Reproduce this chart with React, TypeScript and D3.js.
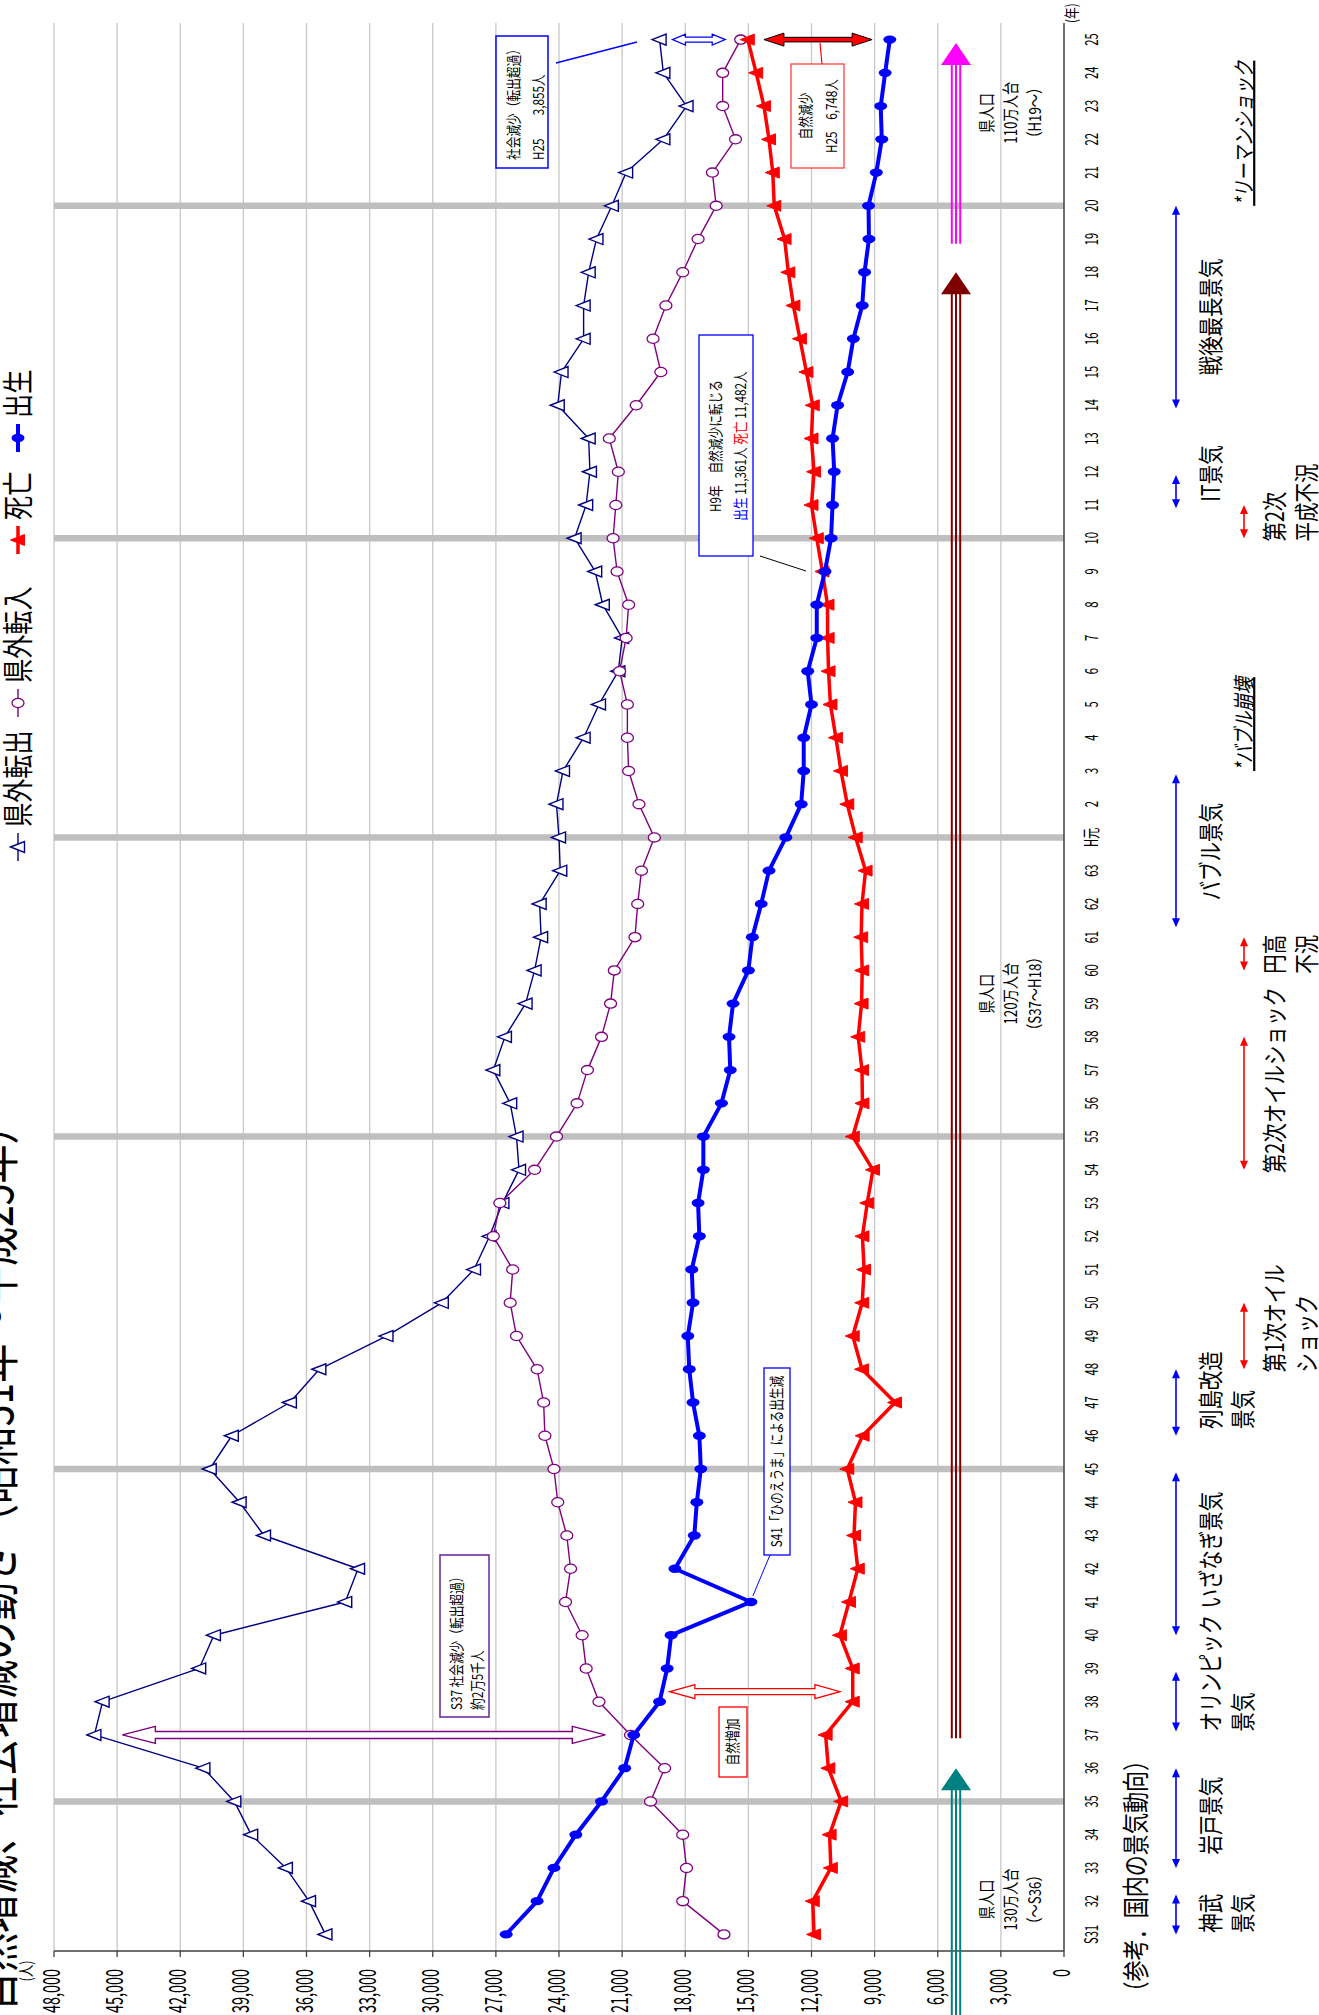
import * as d3 from 'd3';

// 昭和31年～平成25年
const years = [
  'S31', '32', '33', '34', '35', '36', '37', '38', '39', '40', '41', '42', '43', '44', '45', '46', '47',
  '48', '49', '50', '51', '52', '53', '54', '55', '56', '57', '58', '59', '60', '61', '62', '63',
  'H元', '2', '3', '4', '5', '6', '7', '8', '9', '10', '11', '12', '13', '14', '15', '16', '17', '18',
  '19', '20', '21', '22', '23', '24', '25',
];

// 県外転出
const outflow = [
  35100, 35880, 36980, 38630, 39430, 40900, 46080, 45690, 41100, 40400, 34160, 33550, 38020, 39180,
  40600, 39550, 36790, 35390, 32200, 29570, 28040, 27300, 26690, 25900, 26020, 26320, 27120, 26570,
  25590, 25160, 24850, 24920, 23940, 24000, 24120, 23810, 22830, 22100, 21180, 21000, 21920, 22280,
  23260, 22710, 22530, 22590, 24060, 23880, 22830, 22830, 22590, 22220, 21490, 20810, 19040, 17940,
  19040, 19220,
];

// 県外転入
const inflow = [
  16160, 18120, 17940, 18120, 19650, 18980, 20600, 22100, 22710, 22900, 23690, 23450, 23630, 24060,
  24240, 24670, 24730, 25040, 26020, 26320, 26200, 27120, 26810, 25160, 24120, 23140, 22650, 21980,
  21550, 21370, 20390, 20260, 20080, 19470, 20200, 20690, 20750, 20750, 21120, 20810, 20690, 21240,
  21430, 21300, 21180, 21610, 20330, 19160, 19530, 18920, 18120, 17390, 16530, 16710, 15610, 16220,
  16220, 15365,
];

// 死亡
const deaths = [
  11880, 11940, 11080, 11140, 10590, 11200, 11330, 10040, 10040, 10650, 10220, 9800, 9980, 9910,
  10300, 9570, 8030, 9600, 10040, 9590, 9500, 9580, 9350, 9080, 10040, 9580, 9600, 9780, 9620, 9590,
  9640, 9600, 9430, 9900, 10300, 10600, 10840, 11100, 11190, 11234, 11240, 11482, 11750, 12000, 11880,
  12000, 11940, 12240, 12550, 12860, 13100, 13280, 13770, 13840, 14020, 14260, 14630, 15028,
];

// 出生
const births = [
  26510, 25040, 24240, 23200, 21980, 20880, 20450, 19220, 18860, 18670, 14880, 18490, 17570, 17450,
  17260, 17330, 17630, 17810, 17880, 17630, 17690, 17330, 17390, 17140, 17140, 16280, 15860, 15920,
  15730, 15000, 14810, 14390, 14020, 13220, 12490, 12370, 12370, 12000, 12180, 11750, 11750, 11361,
  11070, 11000, 10920, 11000, 10760, 10280, 10010, 9590, 9480, 9270, 9290, 8920, 8660, 8710, 8500,
  8280,
];

const valueTicks = d3.range(0, 48001, 3000);
const decadeIdx = [4, 14, 24, 33, 42, 52]; // S35, S45, S55, H元, H10, H20

// 国内の景気動向 (year-index spans)
const booms = [
  { label: ['神武', '景気'], from: 0, to: 1.2, at: 0.05 },
  { label: ['岩戸景気'], from: 2, to: 5, at: 2.4 },
  { label: ['オリンピック', '景気'], from: 6.1, to: 7.9, at: 6.1 },
  { label: ['いざなぎ景気'], from: 9, to: 13.9, at: 9.8 },
  { label: ['列島改造', '景気'], from: 15, to: 17, at: 15.2 },
  { label: ['バブル景気'], from: 30.3, to: 34.9, at: 31.1 },
  { label: ['IT景気'], from: 42.9, to: 43.9, at: 43.1 },
  { label: ['戦後最長景気'], from: 45.9, to: 52, at: 46.9 },
];
const slumps = [
  { label: ['第1次オイル', 'ショック'], from: 17, to: 19, at: 16.9 },
  { label: ['第2次オイルショック'], from: 23, to: 27, at: 22.9 },
  { label: ['円高', '不況'], from: 29, to: 30, at: 28.9 },
  { label: ['第2次', '平成不況'], from: 42, to: 43, at: 41.9 },
];
const events = [
  { label: '*バブル崩壊', at: 35.0 },
  { label: '*リーマンショック', at: 52.0 },
];

// 県人口
const popSpans = [
  { color: '#008080', from: -3, to: 5, center: 1.05, label: ['県人口', '130万人台', '（～S36）'] },
  { color: '#800000', from: 5.9, to: 50, center: 28.3, label: ['県人口', '120万人台', '（S37～H18）'] },
  { color: '#ff00ff', from: 50.86, to: 56.9, center: 54.8, label: ['県人口', '110万人台', '（H19～）'] },
];

const SX = 0.78;
const NUMSX = 0.62;
const FONT = "'Noto Sans CJK JP', 'Noto Sans', sans-serif";

function T({ x, y, size, anchor = 'start', fill = '#000', sx = SX, italic = false, underline = false, children }: any) {
  return (
    <text
      transform={`translate(${x},${y}) scale(${sx},1)`}
      fontSize={size}
      textAnchor={anchor}
      fill={fill}
      fontFamily={FONT}
      fontStyle={italic ? 'italic' : undefined}
      textDecoration={underline ? 'underline' : undefined}
    >
      {children}
    </text>
  );
}

// vertical double-headed block arrow
function dblArrowV(cx: number, ya: number, yb: number, s: number, w: number, h: number) {
  const y1 = Math.min(ya, yb);
  const y2 = Math.max(ya, yb);
  return `M${cx},${y1} L${cx + w},${y1 + h} L${cx + s},${y1 + h} L${cx + s},${y2 - h} L${cx + w},${y2 - h} L${cx},${y2} L${cx - w},${y2 - h} L${cx - s},${y2 - h} L${cx - s},${y1 + h} L${cx - w},${y1 + h} Z`;
}

function Marker({ type, x, y, color }: any) {
  if (type === 'triOpen' || type === 'triFill') {
    const d = `M${x},${y - 7.5} L${x + 5.5},${y + 6.5} L${x - 5.5},${y + 6.5} Z`;
    return type === 'triOpen'
      ? <path d={d} fill="#fff" stroke={color} strokeWidth={1.4} />
      : <path d={d} fill={color} stroke={color} strokeWidth={1} />;
  }
  if (type === 'circOpen') return <ellipse cx={x} cy={y} rx={4.6} ry={6} fill="#fff" stroke={color} strokeWidth={1.3} />;
  return <ellipse cx={x} cy={y} rx={4.2} ry={6.5} fill={color} />;
}

function HArrow({ x1, x2, y, color }: any) {
  const h = 9;
  const w = 4;
  return (
    <g>
      <line x1={x1 + 2} x2={x2 - 2} y1={y} y2={y} stroke={color} strokeWidth={1.6} />
      <path d={`M${x1},${y} L${x1 + h},${y - w} L${x1 + h},${y + w} Z`} fill={color} />
      <path d={`M${x2},${y} L${x2 - h},${y - w} L${x2 - h},${y + w} Z`} fill={color} />
    </g>
  );
}

export default function App() {
  const xBand = d3.scaleBand<number>().domain(d3.range(years.length)).range([64, 1992]);
  const bw = xBand.bandwidth();
  const xi = (i: number) => (xBand(0) as number) + bw * (i + 0.5);
  const yv = d3.scaleLinear().domain([0, 48000]).range([1064, 54]);
  const line = d3.line<number>().x((_, i) => xi(i)).y((d) => yv(d));

  const series = [
    { key: '県外転出', data: outflow, color: '#000080', width: 1.4, marker: 'triOpen', lx: 1168 },
    { key: '県外転入', data: inflow, color: '#800080', width: 1.4, marker: 'circOpen', lx: 1312 },
    { key: '死亡', data: deaths, color: '#ff0000', width: 3.5, marker: 'triFill', lx: 1475 },
    { key: '出生', data: births, color: '#0000ff', width: 4, marker: 'dot', lx: 1577 },
  ];

  const popY = 956;
  const boomY = 1176;
  const slumpY = 1244;
  const last = years.length - 1;

  return (
    <div>
      <style>{'body{margin:0}'}</style>
      <svg width={1319} height={2015} style={{ display: 'block' }} fontFamily={FONT}>
        <rect width={1319} height={2015} fill="#fff" />
        <g transform="translate(0,2015) rotate(-90)">
          {/* title (partly off the page, as in the source) */}
          <T x={4} y={13} size={50}>自然増減、社会増減の動き（昭和31年～平成25年）</T>

          {/* legend */}
          {series.map((s) => (
            <g key={s.key}>
              <line x1={s.lx - 14} x2={s.lx + 14} y1={18} y2={18} stroke={s.color} strokeWidth={s.width} />
              <Marker type={s.marker} x={s.lx} y={18} color={s.color} />
              <T x={s.lx + 20} y={29} size={31}>{s.key}</T>
            </g>
          ))}

          {/* grid */}
          {valueTicks.filter((v) => v > 0).map((v) => (
            <line key={v} x1={64} x2={1992} y1={yv(v)} y2={yv(v)} stroke="#c8c8c8" strokeWidth={1.3} />
          ))}
          {decadeIdx.map((i) => (
            <line key={i} x1={xi(i)} x2={xi(i)} y1={yv(48000)} y2={yv(0)} stroke="#bfbfbf" strokeWidth={6.5} />
          ))}

          {/* axes */}
          <line x1={64} x2={64} y1={yv(48000)} y2={yv(0)} stroke="#404040" strokeWidth={1.3} />
          <line x1={64} x2={1992} y1={yv(0)} y2={yv(0)} stroke="#404040" strokeWidth={1.5} />
          {valueTicks.map((v) => (
            <g key={v}>
              <line x1={58} x2={64} y1={yv(v)} y2={yv(v)} stroke="#404040" strokeWidth={1.3} />
              <T x={46} y={yv(v) + 6} size={24} sx={0.6} anchor="end">{d3.format(',')(v)}</T>
            </g>
          ))}
          <T x={44} y={32} size={16} anchor="middle">(人)</T>
          {years.map((lab, i) => (
            <T key={i} x={xi(i)} y={1098} size={18} sx={NUMSX} anchor="middle">{lab}</T>
          ))}
          <T x={1992} y={1077} size={15} anchor="start">(年)</T>

          {/* 県人口 arrows */}
          {popSpans.map((p) => {
            const x1 = xi(p.from);
            const x2 = xi(p.to);
            const h = 22;
            return (
              <g key={p.color}>
                {[-4.2, 0, 4.2].map((o) => (
                  <line key={o} x1={x1} x2={x2 - h + 1} y1={popY + o} y2={popY + o} stroke={p.color} strokeWidth={2} />
                ))}
                <path d={`M${x2},${popY} L${x2 - h},${popY - 15} L${x2 - h},${popY + 15} Z`} fill={p.color} />
                {p.label.map((t, k) => (
                  <T key={k} x={xi(p.center)} y={993 + k * 24} size={17} anchor="middle">{t}</T>
                ))}
              </g>
            );
          })}

          {/* series */}
          {series.map((s) => (
            <g key={s.key}>
              <path d={line(s.data) as string} fill="none" stroke={s.color} strokeWidth={s.width} strokeLinejoin="round" />
              {s.data.map((v, i) => (
                <Marker key={i} type={s.marker} x={xi(i)} y={yv(v)} color={s.color} />
              ))}
            </g>
          ))}

          {/* S37 social decrease */}
          <path d={dblArrowV(xi(6), yv(44750), yv(21800), 3.5, 8.5, 33)} fill="#fff" stroke="#800080" strokeWidth={1.4} />
          <rect x={298} y={440} width={162} height={49} fill="#fff" stroke="#7030a0" strokeWidth={1.6} />
          <T x={305} y={462} size={15}>S37 社会減少（転出超過）</T>
          <T x={305} y={483} size={15}>約2万5千人</T>

          {/* natural increase */}
          <path d={dblArrowV(xi(7.3), yv(18730), yv(10650), 3, 7, 25)} fill="#fff" stroke="#ff0000" strokeWidth={1.3} />
          <rect x={238} y={719} width={70} height={28} fill="#fff" stroke="#ff0000" strokeWidth={1.3} />
          <T x={273} y={738} size={15} anchor="middle">自然増加</T>

          {/* S41 hinoeuma */}
          <line x1={460} y1={770} x2={xi(10) + 6} y2={yv(births[10]) + 2} stroke="#0000ff" strokeWidth={1} />
          <rect x={460} y={764} width={187} height={26} fill="#fff" stroke="#0000ff" strokeWidth={1.3} />
          <T x={553.5} y={782} size={15} anchor="middle">S41「ひのえうま」による出生減</T>

          {/* H9 */}
          <line x1={1459} y1={760} x2={1444} y2={806} stroke="#000" strokeWidth={1} />
          <rect x={1459} y={699} width={221} height={54} fill="#fff" stroke="#0000ff" strokeWidth={1.3} />
          <T x={1569} y={721} size={15} anchor="middle">H9年　自然減少に転じる</T>
          <T x={1569} y={746} size={15} anchor="middle">
            <tspan fill="#0000ff">出生</tspan> 11,361人 <tspan fill="#ff0000">死亡</tspan> 11,482人
          </T>

          {/* H25 social decrease */}
          <path d={dblArrowV(xi(last), yv(18610), yv(16100), 2.5, 5.5, 13)} fill="#fff" stroke="#0000ff" strokeWidth={1.3} />
          <line x1={1952} y1={556} x2={1973} y2={637} stroke="#0000ff" strokeWidth={1.5} />
          <rect x={1847} y={496} width={132} height={52} fill="#fff" stroke="#0000ff" strokeWidth={1.5} />
          <T x={1855} y={519} size={15}>社会減少（転出超過）</T>
          <T x={1855} y={544} size={15}>H25　　3,855人</T>

          {/* H25 natural decrease */}
          <path d={dblArrowV(xi(last), yv(14260), yv(9120), 2.3, 6.5, 20)} fill="#ff0000" stroke="#000" strokeWidth={1} />
          <line x1={1951} y1={822} x2={1972} y2={820} stroke="#ff0000" strokeWidth={1.2} />
          <rect x={1847} y={791} width={104} height={53} fill="#fff" stroke="#ff4040" strokeWidth={1.3} />
          <T x={1899} y={811} size={15} anchor="middle">自然減少</T>
          <T x={1899} y={837} size={15} anchor="middle">H25　6,748人</T>

          {/* 国内の景気動向 */}
          <T x={xi(-2.05)} y={1146} size={27}>（参考．国内の景気動向）</T>
          {booms.map((b, k) => (
            <g key={k}>
              <HArrow x1={xi(b.from)} x2={xi(b.to)} y={boomY} color="#0000ff" />
              {b.label.map((t, j) => (
                <T key={j} x={xi(b.at)} y={1220 + j * 32} size={25}>{t}</T>
              ))}
            </g>
          ))}
          {slumps.map((b, k) => (
            <g key={k}>
              <HArrow x1={xi(b.from)} x2={xi(b.to)} y={slumpY} color="#ff0000" />
              {b.label.map((t, j) => (
                <T key={j} x={xi(b.at)} y={1284 + j * 32} size={25}>{t}</T>
              ))}
            </g>
          ))}
          {events.map((e) => (
            <T key={e.label} x={xi(e.at)} y={1252} size={22} italic underline>{e.label}</T>
          ))}
        </g>
      </svg>
    </div>
  );
}
